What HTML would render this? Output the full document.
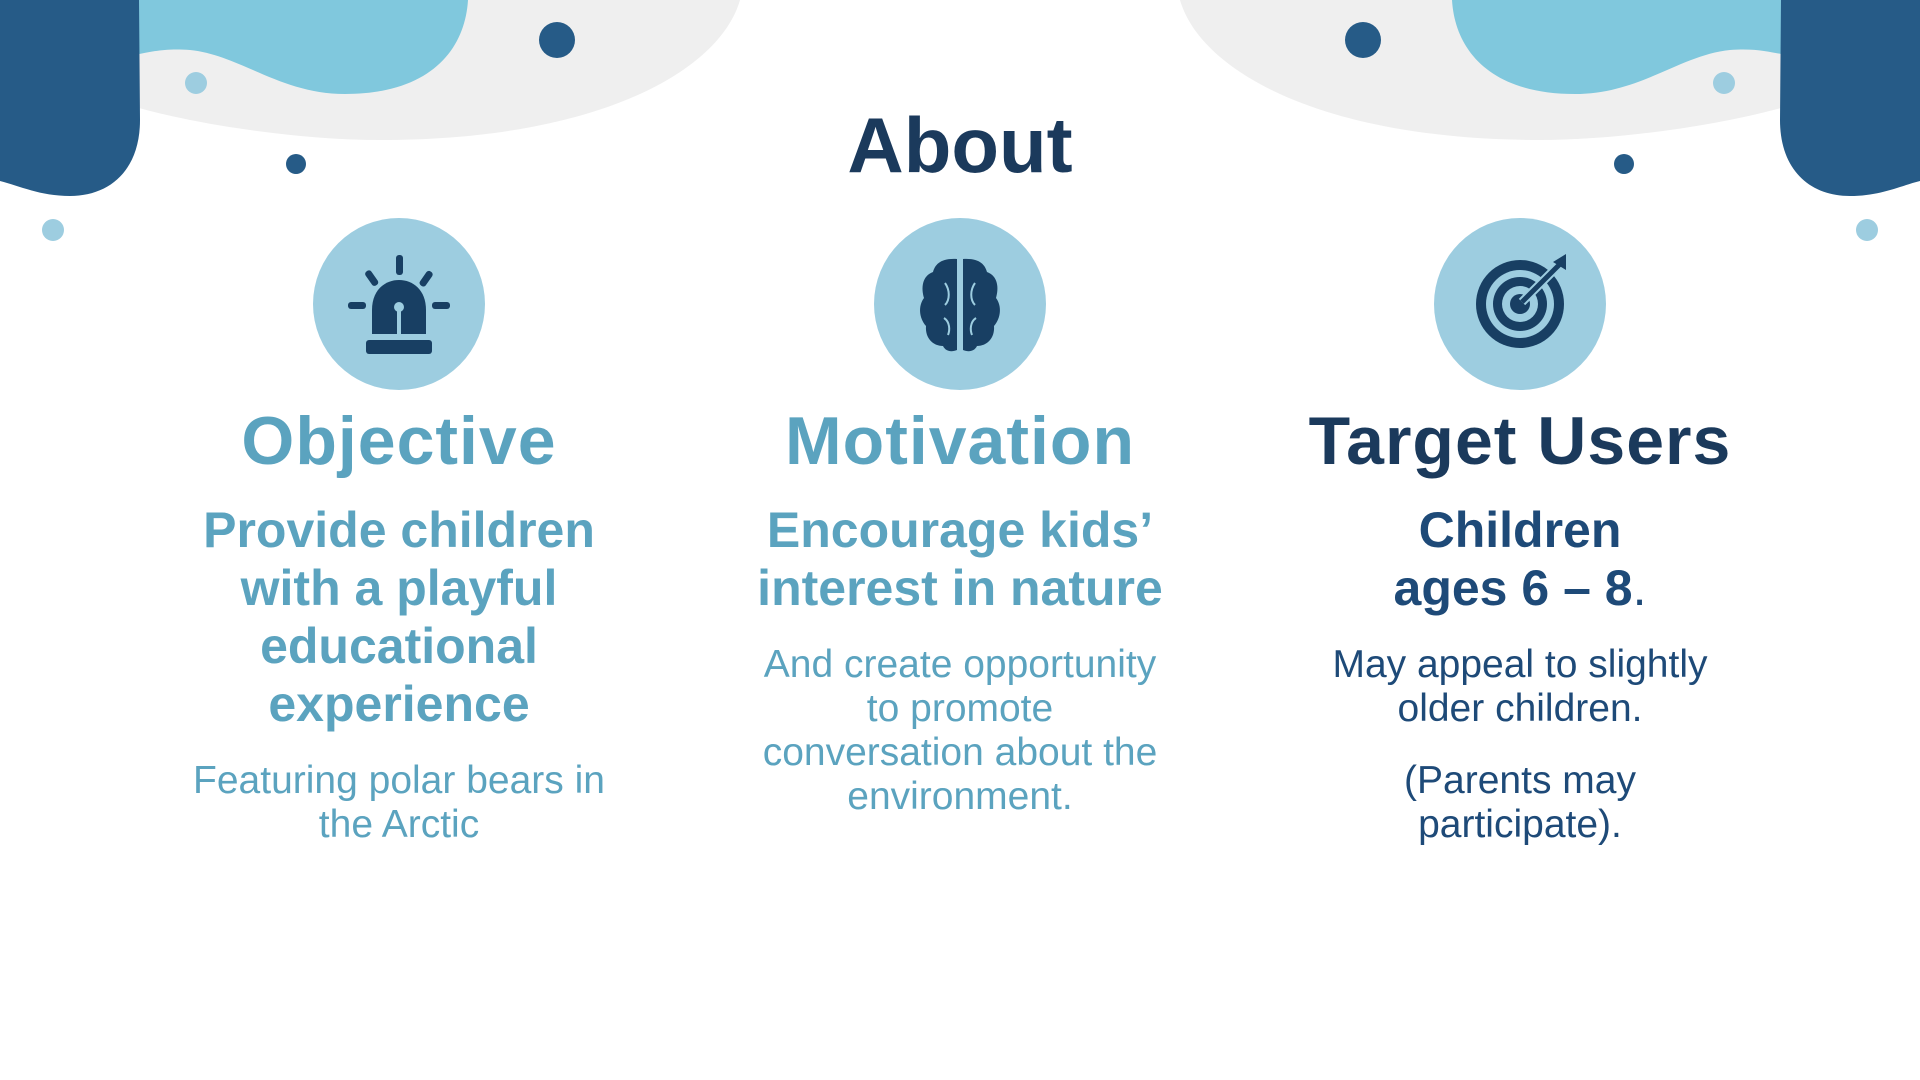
<!DOCTYPE html>
<html><head><meta charset="utf-8"><style>
html,body{margin:0;padding:0;}
body{width:1920px;height:1080px;position:relative;background:#fff;overflow:hidden;font-family:"Liberation Sans",sans-serif;}
.t{position:absolute;text-align:center;white-space:nowrap;}
.title{left:0;width:1920px;top:97px;font-size:78px;font-weight:bold;color:#1b3a5c;line-height:96px;}
.h{font-size:68px;font-weight:bold;line-height:80px;top:401px;letter-spacing:1px;}
.sub{font-size:50px;font-weight:bold;line-height:58px;top:501px;}
.body{font-size:39px;line-height:44px;}
.col{position:absolute;width:560px;}
</style></head><body>
<svg width="1920" height="1080" style="position:absolute;left:0;top:0">
 <g>
  <path d="M139 0 L740 0 C720 70 600 140 380 140 C300 140 200 125 139 108 Z" fill="#efefef"/>
  <path d="M139 0 L468 0 C465 50 430 94 345 94 C280 94 240 55 190 50 C165 48 150 52 139 54 Z" fill="#80c8dd"/>
  <path d="M0 0 L139 0 L140 120 C140 170 110 196 70 196 C40 196 20 186 0 181 Z" fill="#265b87"/>
  <circle cx="557" cy="40" r="18" fill="#265b87"/>
  <circle cx="296" cy="164" r="10" fill="#265b87"/>
  <circle cx="196" cy="83" r="11" fill="#9dcde0"/>
  <circle cx="53" cy="230" r="11" fill="#9dcde0"/>
 </g>
 <g transform="translate(1920,0) scale(-1,1)">
  <path d="M139 0 L740 0 C720 70 600 140 380 140 C300 140 200 125 139 108 Z" fill="#efefef"/>
  <path d="M139 0 L468 0 C465 50 430 94 345 94 C280 94 240 55 190 50 C165 48 150 52 139 54 Z" fill="#80c8dd"/>
  <path d="M0 0 L139 0 L140 120 C140 170 110 196 70 196 C40 196 20 186 0 181 Z" fill="#265b87"/>
  <circle cx="557" cy="40" r="18" fill="#265b87"/>
  <circle cx="296" cy="164" r="10" fill="#265b87"/>
  <circle cx="196" cy="83" r="11" fill="#9dcde0"/>
  <circle cx="53" cy="230" r="11" fill="#9dcde0"/>
 </g>
 <g>
  <circle cx="399" cy="304" r="86" fill="#9dcde0"/>
  <g fill="#183f63">
   <rect x="396" y="255" width="7" height="20" rx="3"/>
   <rect x="368" y="270" width="7" height="17" rx="3" transform="rotate(-35 371 278)"/>
   <rect x="423" y="270" width="7" height="17" rx="3" transform="rotate(35 426 278)"/>
   <rect x="348" y="302" width="18" height="7" rx="3"/>
   <rect x="432" y="302" width="18" height="7" rx="3"/>
   <path d="M372 334 L372 310 C372 290 385 280 399 280 C413 280 426 290 426 310 L426 334 Z"/>
   <rect x="366" y="340" width="66" height="14" rx="3"/>
  </g>
  <circle cx="399" cy="307" r="5" fill="#9dcde0"/>
  <rect x="397" y="310" width="4" height="24" fill="#9dcde0"/>
 </g>
 <g>
  <circle cx="960" cy="304" r="86" fill="#9dcde0"/>
  <path d="M957 259 C940 258 935 265 933 272 C922 276 921 288 924 298 C918 306 919 318 926 326 C925 338 933 346 943 346 C946 352 952 352 957 350 Z" fill="#183f63"/>
  <path d="M963 259 C980 258 985 265 987 272 C998 276 999 288 996 298 C1002 306 1001 318 994 326 C995 338 987 346 977 346 C974 352 968 352 963 350 Z" fill="#183f63"/>
  <g stroke="#9dcde0" stroke-width="2" fill="none">
   <path d="M945 283 C950 290 950 300 945 305"/><path d="M975 283 C970 290 970 300 975 305"/>
   <path d="M944 318 C950 322 950 330 948 335"/><path d="M976 318 C970 322 970 330 972 335"/>
  </g>
 </g>
 <g>
  <circle cx="1520" cy="304" r="86" fill="#9dcde0"/>
  <circle cx="1520" cy="304" r="44" fill="#183f63"/>
  <circle cx="1520" cy="304" r="34" fill="#9dcde0"/>
  <circle cx="1520" cy="304" r="27" fill="#183f63"/>
  <circle cx="1520" cy="304" r="18" fill="#9dcde0"/>
  <circle cx="1520" cy="304" r="10" fill="#183f63"/>
  <line x1="1522" y1="302" x2="1560" y2="264" stroke="#9dcde0" stroke-width="9"/>
  <line x1="1522" y1="302" x2="1560" y2="264" stroke="#183f63" stroke-width="5"/>
  <path d="M1553 262 L1566 254 L1566 270 Z" fill="#183f63"/>
 </g>
</svg>

<div class="t title">About</div>

<div class="col" style="left:119px">
 <div class="t h" style="width:560px;color:#5ba3bf;">Objective</div>
 <div class="t sub" style="width:560px;color:#5ba3bf;">Provide children<br>with a playful<br>educational<br>experience</div>
 <div class="t body" style="width:560px;top:759px;color:#5ba3bf;">Featuring polar bears in<br>the Arctic</div>
</div>

<div class="col" style="left:680px">
 <div class="t h" style="width:560px;color:#5ba3bf;">Motivation</div>
 <div class="t sub" style="width:560px;color:#5ba3bf;">Encourage kids’<br>interest in nature</div>
 <div class="t body" style="width:560px;top:643px;color:#5ba3bf;">And create opportunity<br>to promote<br>conversation about the<br>environment.</div>
</div>

<div class="col" style="left:1240px">
 <div class="t h" style="width:560px;color:#1b3a5c;">Target Users</div>
 <div class="t sub" style="width:560px;color:#1e4a78;">Children<br>ages 6 – 8<span style="font-weight:normal">.</span></div>
 <div class="t body" style="width:560px;top:643px;color:#1e4a78;">May appeal to slightly<br>older children.</div>
 <div class="t body" style="width:560px;top:759px;color:#1e4a78;">(Parents may<br>participate).</div>
</div>
</body></html>
